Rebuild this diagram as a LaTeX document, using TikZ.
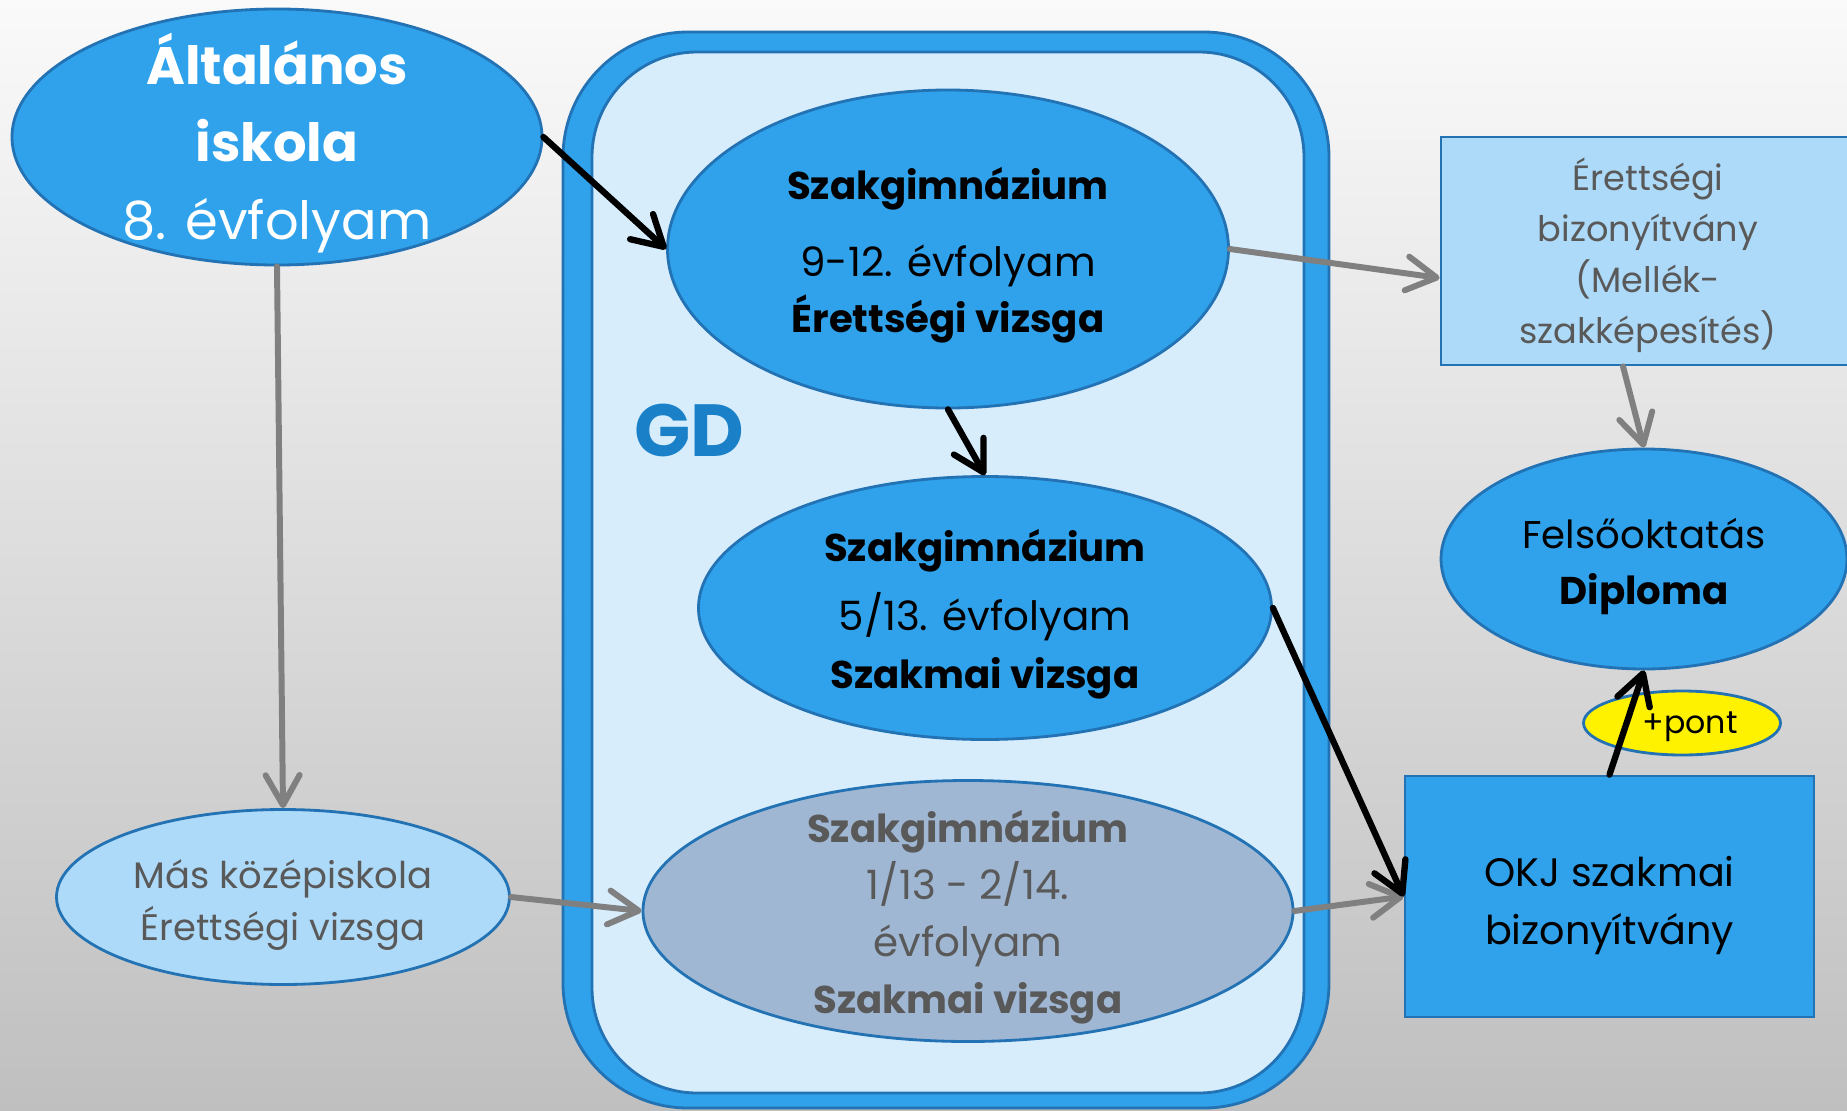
\documentclass[tikz,border=0pt]{standalone}
\usepackage{fontspec}
\setmainfont{Poppins}
\usepackage{tikz}
\usetikzlibrary{shapes.geometric}
\usetikzlibrary{arrows.meta}
\usetikzlibrary{calc}

\definecolor{schoolblue}{RGB}{47,162,235}
\definecolor{edgeblue}{RGB}{34,114,180}
\definecolor{paleblue}{RGB}{173,218,248}
\definecolor{gdback}{RGB}{215,237,252}
\definecolor{slateoval}{RGB}{160,183,211}
\definecolor{darkgrey}{RGB}{89,89,89}
\definecolor{gdtext}{RGB}{26,128,200}
\definecolor{arrowgrey}{RGB}{128,128,128}

% strut on the first line, pushes the text block down a little
\newcommand{\lift}[1]{\rule{0pt}{#1em}}
% bold line in the Szakgimnazium ovals
\newcommand{\sghead}[1]{{\fontsize{11}{16}\selectfont\bfseries #1}}

\begin{document}
\begin{tikzpicture}[
  oval/.style={ellipse, draw=edgeblue, line width=0.8pt, fill=schoolblue, inner sep=-0.5cm, align=center},
  card/.style={rectangle, draw=edgeblue, line width=0.8pt, inner sep=0pt, align=center},
  >={Straight Barb[length=3mm,width=3.4mm,round]},
  main/.style={->, line width=1.8pt, line cap=round, black},
  side/.style={->, line width=1.7pt, line cap=round, arrowgrey}
]
\clip (0,0) rectangle (18.47,11.10);
\shade[top color=black!2, bottom color=black!25] (0,0) rectangle (18.47,11.10);

% GD frame
\draw[edgeblue, line width=0.8pt, fill=schoolblue, rounded corners=1.25cm] (5.63,0.02) rectangle (13.29,10.78);
\draw[edgeblue, line width=0.8pt, fill=gdback, rounded corners=1.05cm] (5.92,0.17) rectangle (13.04,10.58);
\node[text=gdtext, font=\fontsize{21}{21}\selectfont\bfseries] (gd) at (6.89,6.80) {GD};

% schools
\node[oval, minimum width=5.30cm, minimum height=2.56cm, text=white, font=\fontsize{15}{22}\selectfont] (alt) at (2.77,9.73) {\lift{1.2}\textbf{Általános}\\\textbf{iskola}\\8. évfolyam};
\node[oval, minimum width=5.61cm, minimum height=3.18cm, font=\fontsize{11.5}{16}\selectfont] (sg1) at (9.48,8.61) {\lift{1.1}\sghead{Szakgimnázium}\\[6pt]9-12. évfolyam\\\sghead{Érettségi vizsga}};
\node[oval, minimum width=5.73cm, minimum height=2.63cm, font=\fontsize{11.5}{16.5}\selectfont] (sg2) at (9.85,5.02) {\lift{1.1}\sghead{Szakgimnázium}\\[3pt]5/13. évfolyam\\\sghead{Szakmai vizsga}};
\node[oval, fill=slateoval, minimum width=6.50cm, minimum height=2.61cm, text=darkgrey, font=\fontsize{11.5}{16.2}\selectfont] (sg3) at (9.68,1.99) {\lift{1.1}\sghead{Szakgimnázium}\\1/13 - 2/14.\\évfolyam\\\sghead{Szakmai vizsga}};
\node[oval, fill=paleblue, minimum width=4.53cm, minimum height=1.75cm, text=darkgrey, font=\fontsize{10.5}{14.8}\selectfont] (mas) at (2.83,2.13) {\lift{1.2}Más középiskola\\Érettségi vizsga};

% results
\node[card, fill=paleblue, minimum width=4.14cm, minimum height=2.28cm, text=darkgrey, font=\fontsize{10}{14.6}\selectfont] (erb) at (16.48,8.59) {\lift{1.17}Érettségi\\bizonyítvány\\(Mellék-\\szakképesítés)};
\node[oval, minimum width=4.06cm, minimum height=2.20cm, font=\fontsize{11}{16}\selectfont] (felso) at (16.44,5.51) {\lift{1.18}Felsőoktatás\\\textbf{Diploma}};
\node[oval, fill=yellow, minimum width=1.97cm, minimum height=0.64cm, font=\fontsize{9}{9}\selectfont] (pont) at (16.82,3.87) {\hspace*{0.16cm}\lift{0.9}+pont};
\node[card, fill=schoolblue, minimum width=4.09cm, minimum height=2.41cm, font=\fontsize{11.3}{16.5}\selectfont] (okj) at (16.095,2.135) {\lift{1.2}OKJ szakmai\\bizonyítvány};

\path[side]
(alt.south) edge (mas.north)
(mas.east) edge (sg3.west)
(sg3.east) edge (okj.west)
(sg1.east) edge ([yshift=-0.27cm]erb.west)
([xshift=-0.25cm]erb.south) edge (felso.north)
;
\path[main]
(alt.east) edge (sg1.west)
(sg1.south) edge (sg2.north)
(sg2.east) edge (okj.west)
(okj.north) edge (felso.south)
;
\end{tikzpicture}
\end{document}
